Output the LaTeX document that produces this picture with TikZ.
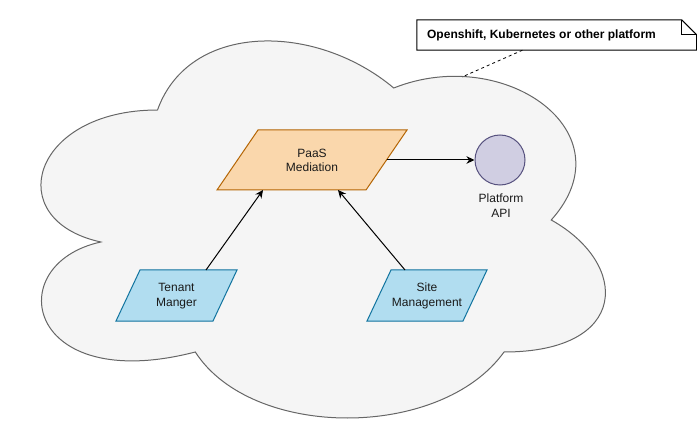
\documentclass[tikz,border=0pt]{standalone}
\usepackage{fontspec}
\setmainfont{Liberation Sans}
\usetikzlibrary{arrows.meta}
\definecolor{cloudfill}{HTML}{F5F5F5}
\definecolor{cloudline}{HTML}{666666}
\definecolor{orfill}{HTML}{FAD7AC}
\definecolor{orline}{HTML}{B46504}
\definecolor{blfill}{HTML}{B1DDF0}
\definecolor{blline}{HTML}{10739E}
\definecolor{pufill}{HTML}{D0CEE2}
\definecolor{puline}{HTML}{56517E}
\definecolor{txt}{HTML}{1A1A1A}
\begin{document}
\begin{tikzpicture}[x=1pt,y=-1pt,
  lbl/.style={align=center,font=\fontsize{12}{14.4}\selectfont,text=txt,inner sep=0pt},
  orshape/.style={draw=orline,fill=orfill,line width=1pt,line join=miter},
  blshape/.style={draw=blline,fill=blfill,line width=1pt,line join=miter},
  conn/.style={draw=black,line width=1pt,-{Stealth[length=8pt,width=7.5pt,inset=2.5pt]}},
  notelink/.style={draw=black,line width=0.8pt,dash pattern=on 3pt off 3pt}]
\useasboundingbox (0,0) rectangle (697,441);
% cloud
\draw[fill=cloudfill,draw=cloudline,line width=1pt]
  (157.5,110) .. controls (31.5,110) and (0,220) .. (100.8,242)
  .. controls (0,264) and (25.2,396) .. (195.3,352)
  .. controls (252,440) and (441,440) .. (504,352)
  .. controls (630,352) and (630,264) .. (551.25,220)
  .. controls (630,132) and (504,44) .. (393.75,88)
  .. controls (315,22) and (189,22) .. (157.5,110) -- cycle;
\coordinate (cloudtop) at (462,77);
% note
\node[minimum width=279.5pt,minimum height=30pt,inner sep=0pt] (note) at (556.75,35) {};
\draw[fill=white,draw=black,line width=1pt]
  (note.south west) -- (note.north west) -- ([xshift=-15pt]note.north east)
  -- ([yshift=-15pt]note.north east) -- (note.south east) -- cycle;
\draw[black,line width=1pt] ([xshift=-15pt]note.north east) -- ([xshift=-15pt,yshift=-15pt]note.north east) -- ([yshift=-15pt]note.north east);
\node[lbl,font=\fontsize{12}{14.4}\selectfont\bfseries,text=black] (notetext) at (541.5,35.5) {Openshift, Kubernetes or other platform};
\draw[notelink] (note) -- (cloudtop);
% PaaS Mediation
\draw[orshape] (258,130) -- (407,130) -- (366,190) -- (217,190) -- cycle;
\node[lbl] (paas) at (312,160.5) {PaaS\\Mediation};
\coordinate (paasR) at (386.5,160);
\coordinate (paasBL) at (263,190);
\coordinate (paasBR) at (338,190);
% Tenant
\draw[blshape] (140,270) -- (237,270) -- (213,321) -- (116,321) -- cycle;
\node[lbl] (tenant) at (176.5,296) {Tenant\\Manger};
\coordinate (tenantT) at (206,270);
% Site
\draw[blshape] (391,270) -- (487,270) -- (463,321) -- (367,321) -- cycle;
\node[lbl] (site) at (427,296) {Site\\Management};
\coordinate (siteT) at (405,270);
% Platform API
\node[circle,draw=puline,fill=pufill,line width=1pt,minimum size=50pt,inner sep=0pt] (api) at (500,160) {};
\node[lbl] (apitext) at (501,205.5) {Platform\\API};
% connectors
\draw[conn] (paasR) -- (api);
\draw[conn] (tenantT) -- (paasBL);
\draw[conn] (siteT) -- (paasBR);
\end{tikzpicture}
\end{document}
